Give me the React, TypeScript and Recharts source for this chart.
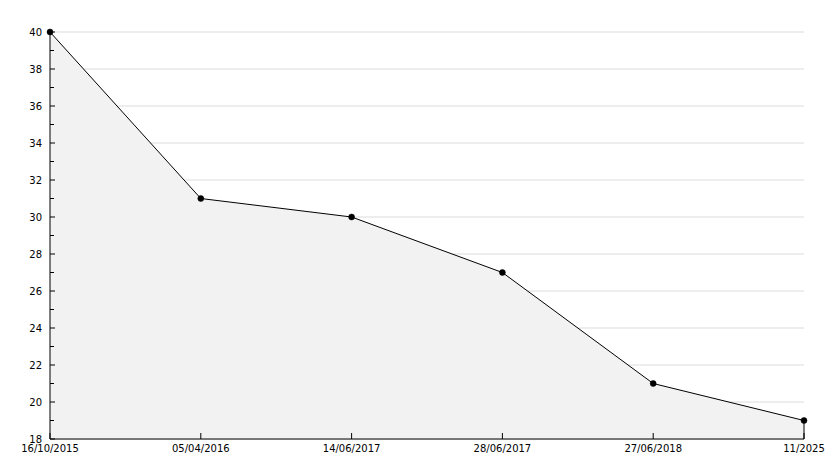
import React from 'react';
import { AreaChart, Area, XAxis, YAxis, CartesianGrid, ReferenceLine } from 'recharts';

const dates = ['16/10/2015', '05/04/2016', '14/06/2017', '28/06/2017', '27/06/2018', '11/2025'];
const values = [40, 31, 30, 27, 21, 19];
const yTicks = [18, 19, 20, 21, 22, 23, 24, 25, 26, 27, 28, 29, 30, 31, 32, 33, 34, 35, 36, 37, 38, 39, 40];
const gridValues = [18, 20, 22, 24, 26, 28, 30, 32, 34, 36, 38, 40];

const data = dates.map((d, i) => ({ date: d, value: values[i] }));

const FONT = 'DejaVu Sans, Verdana, sans-serif';

const YTick = (props: any) => {
  const { x, y, payload } = props;
  const major = payload.value % 2 === 0;
  return (
    <g>
      <line x1={x} x2={x + (major ? 5 : 4)} y1={y} y2={y} stroke="#000" />
      {major && (
        <text x={x - 8} y={y} dy="0.35em" textAnchor="end" fontSize={10} fontFamily={FONT} fill="#000">
          {payload.value}
        </text>
      )}
    </g>
  );
};

const XTick = (props: any) => {
  const { x, y, payload } = props;
  return (
    <g>
      <line x1={x} x2={x} y1={y - 6} y2={y} stroke="#000" />
      <text x={x} y={y + 13} textAnchor="middle" fontSize={10} fontFamily={FONT} fill="#000">
        {payload.value}
      </text>
    </g>
  );
};

export default function App() {
  return (
    <div style={{ position: 'fixed', left: 0, top: 0, width: 834, height: 468, background: '#fff' }}>
      <AreaChart width={834} height={468} data={data} margin={{ top: 32, right: 30, bottom: 0, left: 0 }}>
        <CartesianGrid vertical={false} horizontalValues={gridValues} stroke="#dcdcdc" />
        <XAxis
          dataKey="date"
          height={29}
          tickSize={0}
          tickMargin={0}
          tick={<XTick />}
          axisLine={{ stroke: '#000' }}
          interval={0}
        />
        <YAxis
          width={50}
          domain={[18, 40]}
          ticks={yTicks}
          interval={0}
          tickSize={0}
          tickMargin={0}
          tick={<YTick />}
          axisLine={{ stroke: '#000' }}
        />
        <Area
          type="linear"
          dataKey="value"
          stroke="#000"
          strokeWidth={1}
          fill="#f2f2f2"
          fillOpacity={1}
          dot={{ r: 3, fill: '#000', stroke: '#000', strokeWidth: 0.5 }}
          activeDot={false}
          isAnimationActive={false}
        />
        <ReferenceLine
          segment={[
            { x: dates[dates.length - 1], y: values[values.length - 1] },
            { x: dates[dates.length - 1], y: 18 },
          ]}
          stroke="#000"
        />
      </AreaChart>
    </div>
  );
}
